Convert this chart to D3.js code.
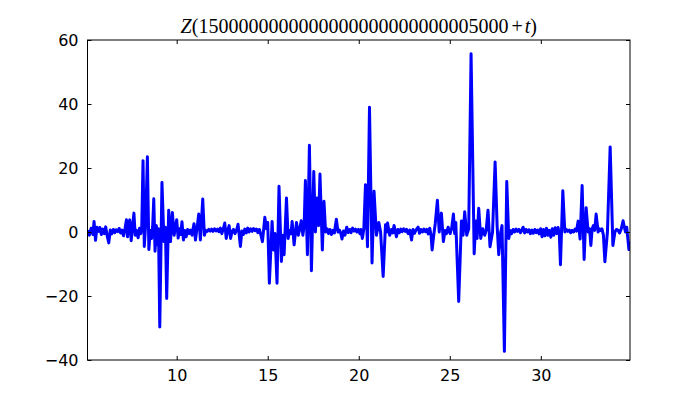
<!DOCTYPE html>
<html>
<head>
<meta charset="utf-8">
<script src="https://cdn.jsdelivr.net/npm/d3@7"></script>
<style>
  body { margin: 0; background: #fff; }
  svg { display: block; }
</style>
</head>
<body>
<div id="chart"></div>
<script>
// samples of Z(1.5e30 + t)
const sampleT = [
  5.10, 5.20, 5.30, 5.40, 5.46, 5.54, 5.62, 5.70, 5.78, 5.86, 5.94, 6.02, 6.10, 6.18, 6.27, 6.35,
  6.43, 6.52, 6.60, 6.68, 6.76, 6.84, 6.92, 7.00, 7.08, 7.16, 7.24, 7.30, 7.36, 7.42, 7.50, 7.57,
  7.65, 7.72, 7.80, 7.88, 7.96, 8.03, 8.08, 8.15, 8.22, 8.29, 8.39, 8.47, 8.55, 8.62, 8.68, 8.74,
  8.81, 8.88, 8.94, 9.00, 9.07, 9.19, 9.30, 9.38, 9.45, 9.56, 9.66, 9.76, 9.86, 9.94, 10.00, 10.08,
  10.16, 10.22, 10.29, 10.37, 10.45, 10.52, 10.60, 10.68, 10.76, 10.84, 10.90, 10.95, 11.03, 11.10,
  11.21, 11.30, 11.43, 11.52, 11.60, 11.68, 11.76, 11.84, 11.92, 12.00, 12.08, 12.16, 12.24, 12.32,
  12.40, 12.48, 12.56, 12.64, 12.72, 12.80, 12.88, 12.96, 13.04, 13.12, 13.20, 13.30, 13.37, 13.50,
  13.58, 13.66, 13.74, 13.82, 13.90, 13.98, 14.06, 14.14, 14.22, 14.30, 14.38, 14.46, 14.54, 14.62,
  14.71, 14.84, 14.93, 15.00, 15.09, 15.24, 15.32, 15.40, 15.51, 15.62, 15.75, 15.84, 15.90, 16.03,
  16.12, 16.20, 16.28, 16.34, 16.45, 16.58, 16.68, 16.76, 16.84, 16.93, 17.00, 17.07, 17.18, 17.29,
  17.40, 17.53, 17.62, 17.71, 17.79, 17.87, 18.00, 18.09, 18.18, 18.26, 18.34, 18.42, 18.50, 18.58,
  18.66, 18.77, 18.86, 18.94, 19.02, 19.08, 19.16, 19.24, 19.34, 19.42, 19.50, 19.58, 19.66, 19.74,
  19.82, 19.90, 19.98, 20.06, 20.12, 20.20, 20.28, 20.37, 20.48, 20.59, 20.73, 20.84, 20.97, 21.10,
  21.20, 21.34, 21.47, 21.53, 21.58, 21.70, 21.80, 21.87, 21.94, 22.07, 22.15, 22.23, 22.31, 22.39,
  22.47, 22.55, 22.63, 22.71, 22.80, 22.90, 22.98, 23.06, 23.14, 23.26, 23.34, 23.42, 23.50, 23.58,
  23.66, 23.74, 23.82, 23.90, 23.97, 24.03, 24.12, 24.20, 24.32, 24.42, 24.54, 24.65, 24.74, 24.82,
  24.91, 25.02, 25.10, 25.20, 25.27, 25.33, 25.49, 25.64, 25.73, 25.82, 25.93, 26.04, 26.17, 26.34,
  26.43, 26.50, 26.59, 26.70, 26.81, 26.92, 27.00, 27.10, 27.21, 27.35, 27.49, 27.60, 27.69, 27.80,
  27.87, 28.00, 28.13, 28.24, 28.32, 28.40, 28.48, 28.56, 28.64, 28.72, 28.80, 28.88, 28.96, 29.03,
  29.11, 29.19, 29.27, 29.35, 29.43, 29.51, 29.59, 29.67, 29.75, 29.83, 29.91, 29.99, 30.07, 30.15,
  30.23, 30.31, 30.39, 30.47, 30.55, 30.63, 30.71, 30.79, 30.87, 30.95, 31.02, 31.08, 31.21, 31.32,
  31.40, 31.48, 31.56, 31.64, 31.72, 31.80, 31.88, 31.96, 32.05, 32.16, 32.27, 32.38, 32.49, 32.60,
  32.68, 32.75, 32.82, 32.89, 32.96, 33.04, 33.15, 33.22, 33.28, 33.36, 33.44, 33.52, 33.66, 33.81,
  33.96, 34.07, 34.15, 34.25, 34.33, 34.42, 34.52, 34.65, 34.72, 34.84, 34.90
];
const sampleZ = [
  0.5, -1.0, 1.2, -0.8, 3.3, -2.6, 1.5, 0.2, 1.4, -0.8, 0.9, -0.5, 1.6, -1.2, -3.4, 0.6,
  -0.6, 0.8, -0.2, 0.7, 0.1, 1.1, -0.3, 0.6, -1.2, 1.0, 3.8, -1.5, 2.5, 3.8, -2.7, 1.5,
  5.9, -1.0, 0.5, -1.8, 1.2, -0.5, 1.5, 22.3, -4.5, 2.0, 23.5, -5.5, 0.5, -2.0, 1.8, 10.4,
  -6.0, 2.0, -4.0, 1.0, -29.7, 15.5, -3.0, 1.5, -20.8, 6.8, -3.0, 6.1, -1.0, 2.0, 3.8, -1.9,
  1.0, -0.8, 3.2, -2.5, 0.5, -1.5, 0.8, -0.5, 0.6, -1.0, 1.0, 2.6, -2.5, 0.5,
  5.6, -2.5, 10.3, -1.0, 0.5, 0.2, 0.8, 0.3, 0.9, 0.2, 1.0, 0.3, 0.9, 0.1,
  1.2, -0.5, 1.0, 2.8, -2.0, 0.5, 2.0, -2.0, 0.2, 0.8, -0.5, 0.8, 2.4, -4.5,
  0.3, -0.8, 0.9, -0.3, 1.2, 0.0, 1.0, 0.2, 1.1, 0.4, 0.9, -0.2, 0.8, -0.8,
  -3.0, 4.6, 1.0, 3.0, -16.0, 3.3, -5.6, -0.5, -16.0, 14.3, -9.2, -1.0, -7.1, 10.6,
  -2.0, 0.5, -0.5, 3.3, -4.0, 3.0, -1.0, 1.0, 3.5, -1.0, 2.0, 16.1, -7.1, 27.1,
  -12.1, 18.9, 0.0, 10.6, 2.0, 18.1, -5.6, 9.6, 0.0, 1.0, -0.5, 0.8, -0.8, 0.5,
  -0.3, 4.0, 0.0, 0.6, -0.5, -2.2, 0.3, -1.0, 1.5, -0.2, 0.8, -0.2, 1.2, 0.3,
  0.9, 0.0, 0.8, -0.5, 0.8, -2.0, 1.0, 14.8, -4.6, 39.0, -9.7, 12.7, -1.0, 3.0,
  0.0, -13.9, 2.3, 0.0, 2.8, -1.0, 0.8, -0.3, 2.0, -1.5, 0.8, -0.2, 0.9, 0.1,
  1.0, 0.2, 0.8, -0.5, 0.6, -2.5, 0.8, -0.4, 0.6, 1.5, -0.4, 0.8, 0.0, 0.9,
  0.1, 0.8, -0.6, 1.2, -1.0, -5.6, -1.0, 2.5, 9.9, 0.0, 5.9, -3.0, 0.5, -0.5,
  1.5, -0.5, 1.0, 5.6, -0.5, 3.0, -21.7, 3.4, -1.0, 6.3, -1.0, 1.0, 55.7, -6.8,
  3.4, -2.0, 7.4, -2.0, 1.0, -1.0, 0.5, 6.8, -4.6, 0.0, 21.9, 2.0, -7.1, 0.0,
  2.0, -37.3, 15.8, -2.0, 0.5, -0.5, 0.8, 0.0, 0.9, 0.2, 0.8, -0.2, 0.6, 1.5,
  -0.3, 0.8, 0.0, 0.7, -0.5, 0.6, -0.4, 0.8, -0.2, 0.6, -0.6, 1.0, -1.5, 0.8,
  -1.2, 1.2, -1.0, 0.5, -1.6, 1.0, -1.0, 1.3, -0.5, 1.4, -1.0, -10.2, 12.9, 0.0,
  0.8, 0.2, 0.6, -0.2, 0.5, 0.0, 0.9, 0.3, 3.4, -2.2, 14.5, -8.6, 7.6, 0.0,
  1.0, -4.2, 1.0, 2.0, 0.5, 5.6, 0.0, 1.0, 0.5, 1.0, -1.0, -9.3, 0.0, 26.6,
  -4.2, 0.0, 0.8, 0.5, -0.3, 1.0, 3.5, 0.0, 1.5, -5.5, -3.0
];

const xDomain = [5.1, 34.9];
const yDomain = [-40, 60];
const xTicks = [10, 15, 20, 25, 30];
const yTicks = [-40, -20, 0, 20, 40, 60];
const titleNumber = "15" + "0000000000000000000000000" + "5000";

const W = 700, H = 400;
const margin = { top: 40, right: 70, bottom: 40, left: 87.5 };
const width = W - margin.left - margin.right;
const height = H - margin.top - margin.bottom;

const svg = d3.select("#chart").append("svg")
  .attr("width", W)
  .attr("height", H);

const x = d3.scaleLinear().domain(xDomain).range([0, width]);
const y = d3.scaleLinear().domain(yDomain).range([height, 0]);

const plot = svg.append("g")
  .attr("transform", `translate(${margin.left},${margin.top})`);

plot.append("clipPath").attr("id", "clip")
  .append("rect").attr("width", width).attr("height", height);

const points = sampleT.map((t, i) => [t, sampleZ[i]]);

const line = d3.line()
  .x(d => x(d[0]))
  .y(d => y(d[1]));

plot.append("path")
  .datum(points)
  .attr("clip-path", "url(#clip)")
  .attr("fill", "none")
  .attr("stroke", "#0000ff")
  .attr("stroke-width", 3)
  .attr("stroke-linejoin", "round")
  .attr("d", line);

// axes, matplotlib classic look: inward ticks on all four sides
const tickLen = 4;
const font = "'DejaVu Sans', sans-serif";

const axBottom = plot.append("g")
  .attr("transform", `translate(0,${height})`)
  .call(d3.axisBottom(x).tickValues(xTicks).tickSizeInner(-tickLen).tickSizeOuter(0).tickPadding(10));
const axTop = plot.append("g")
  .call(d3.axisTop(x).tickValues(xTicks).tickSizeInner(-tickLen).tickSizeOuter(0).tickFormat(""));
const axLeft = plot.append("g")
  .call(d3.axisLeft(y).tickValues(yTicks).tickSizeInner(-tickLen).tickSizeOuter(0).tickPadding(9)
    .tickFormat(d => d < 0 ? "\u2212" + Math.abs(d) : d));
const axRight = plot.append("g")
  .attr("transform", `translate(${width},0)`)
  .call(d3.axisRight(y).tickValues(yTicks).tickSizeInner(-tickLen).tickSizeOuter(0).tickFormat(""));

[axBottom, axTop, axLeft, axRight].forEach(g => {
  g.select(".domain").remove();
  g.selectAll("line").attr("stroke", "#000").attr("stroke-width", 1);
  g.selectAll("text")
    .attr("fill", "#000")
    .style("font-family", font)
    .style("font-size", "16px");
});

plot.append("rect")
  .attr("width", width)
  .attr("height", height)
  .attr("fill", "none")
  .attr("stroke", "#000")
  .attr("stroke-width", 1);

// title, set like mathtext
const title = svg.append("text")
  .attr("x", margin.left + width / 2)
  .attr("y", 33)
  .attr("text-anchor", "middle")
  .style("font-family", "'Liberation Serif', 'DejaVu Serif', serif")
  .style("font-size", "20px")
  .attr("fill", "#000");
title.append("tspan").style("font-style", "italic").text("Z");
title.append("tspan").text("(" + titleNumber);
title.append("tspan").attr("dx", 3).text("+");
title.append("tspan").attr("dx", 2).style("font-style", "italic").text("t");
title.append("tspan").text(")");
</script>
</body>
</html>
